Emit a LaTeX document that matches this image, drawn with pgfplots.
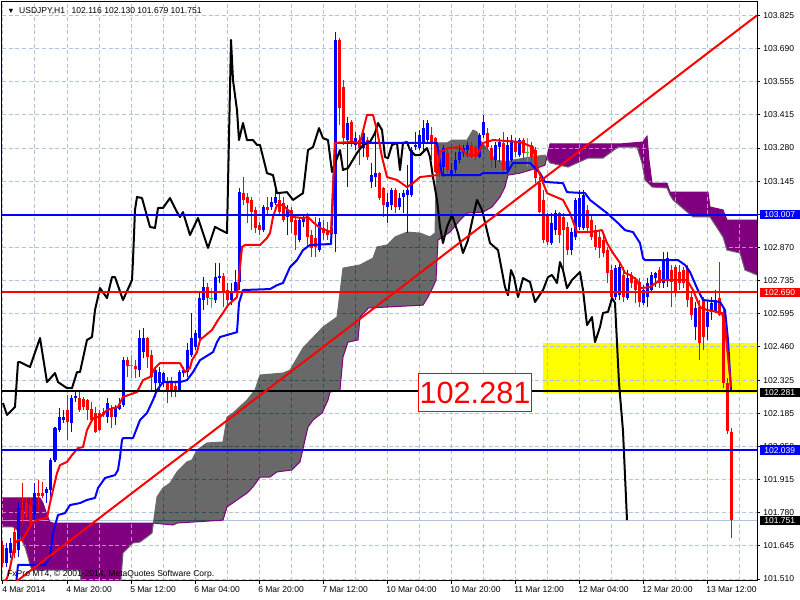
\documentclass[border=0pt]{standalone}
\usepackage{pgfplots}
\pgfplotsset{compat=1.18}
\usepackage{pgfplotstable}
\usepgfplotslibrary{fillbetween}
\usepackage{fontspec}
\setmainfont{Liberation Sans}
\definecolor{gridc}{RGB}{176,196,222}
\definecolor{gridgreyc}{RGB}{47,79,79}
\definecolor{gridpurplec}{RGB}{215,125,215}
\definecolor{cloudgrey}{RGB}{105,105,105}
\definecolor{cloudpurple}{RGB}{128,0,128}
\definecolor{dojigreen}{RGB}{0,230,0}
\definecolor{mtblue}{RGB}{0,0,255}
\definecolor{mtred}{RGB}{255,0,0}
\definecolor{mtyellow}{RGB}{255,255,0}
\definecolor{bidc}{RGB}{176,196,222}

% bullish candles: index, open, high, low, close
\pgfplotstableread{
i o h l c
1 101.576 101.658 101.559 101.637
2 101.617 101.678 101.596 101.658
4 101.629 101.822 101.600 101.802
8 101.773 101.904 101.752 101.863
11 101.863 101.888 101.822 101.880
12 101.876 102.007 101.847 101.999
13 101.999 102.134 101.991 102.130
14 102.122 102.212 102.114 102.175
15 102.163 102.204 102.151 102.175
17 102.151 102.266 102.114 102.253
18 102.253 102.278 102.237 102.262
26 102.175 102.253 102.151 102.233
28 102.175 102.225 102.143 102.212
29 102.208 102.253 102.204 102.225
30 102.225 102.422 102.217 102.409
34 102.368 102.533 102.340 102.500
35 102.442 102.541 102.418 102.500
38 102.315 102.381 102.258 102.368
39 102.315 102.381 102.278 102.360
40 102.319 102.360 102.299 102.356
44 102.286 102.368 102.278 102.360
45 102.356 102.381 102.340 102.368
46 102.360 102.479 102.340 102.451
47 102.430 102.603 102.422 102.500
48 102.463 102.533 102.451 102.520
49 102.500 102.685 102.492 102.664
50 102.656 102.750 102.615 102.709
53 102.656 102.808 102.644 102.750
54 102.746 102.808 102.726 102.754
57 102.656 102.726 102.635 102.689
58 102.689 102.779 102.685 102.730
59 102.730 103.116 102.697 103.099
65 102.943 103.046 102.935 103.038
67 103.038 103.079 103.026 103.058
68 103.054 103.108 103.046 103.079
71 102.997 103.046 102.923 103.026
74 102.902 102.997 102.894 102.984
75 102.976 103.005 102.956 102.997
79 102.861 102.993 102.853 102.976
83 102.927 103.757 102.853 103.724
86 103.313 103.407 103.120 103.383
88 103.293 103.346 103.272 103.321
90 103.280 103.346 103.243 103.342
92 103.141 103.219 103.116 103.169
93 103.161 103.342 103.120 103.177
96 103.038 103.095 102.972 103.058
97 103.046 103.116 103.026 103.108
99 103.038 103.095 103.026 103.075
100 103.079 103.108 103.013 103.095
101 103.087 103.210 102.931 103.108
102 103.087 103.284 103.079 103.272
103 103.284 103.346 103.272 103.293
104 103.280 103.354 103.272 103.334
105 103.305 103.395 103.264 103.362
106 103.313 103.395 103.301 103.383
110 103.202 103.293 103.161 103.280
112 103.169 103.219 103.161 103.190
113 103.190 103.264 103.177 103.231
114 103.231 103.293 103.219 103.264
115 103.260 103.293 103.243 103.280
116 103.272 103.305 103.243 103.293
119 103.243 103.342 103.239 103.334
120 103.334 103.416 103.321 103.387
123 103.231 103.305 103.198 103.293
124 103.284 103.321 103.223 103.305
126 103.190 103.325 103.182 103.293
127 103.231 103.334 103.223 103.313
129 103.251 103.321 103.243 103.313
137 102.890 103.013 102.882 102.972
138 102.943 103.026 102.923 103.013
142 102.861 102.952 102.841 102.935
143 102.915 103.075 102.902 103.067
144 102.956 103.108 102.943 103.075
145 102.952 103.108 102.943 103.087
153 102.668 102.800 102.656 102.787
154 102.676 102.808 102.656 102.791
156 102.664 102.779 102.656 102.746
160 102.644 102.717 102.635 102.697
161 102.668 102.746 102.627 102.726
162 102.697 102.771 102.689 102.759
163 102.746 102.771 102.709 102.767
165 102.726 102.853 102.705 102.820
166 102.738 102.853 102.709 102.828
173 102.545 102.648 102.492 102.623
176 102.545 102.656 102.492 102.607
177 102.607 102.668 102.574 102.644
178 102.607 102.697 102.603 102.656
}\upcandles

% bearish candles
\pgfplotstableread{
i o h l c
0 101.650 101.666 101.559 101.576
3 101.703 101.720 101.596 101.617
5 101.793 101.904 101.740 101.752
6 101.822 101.843 101.752 101.765
7 101.814 101.843 101.724 101.740
9 101.863 101.917 101.793 101.851
10 101.863 101.908 101.843 101.851
16 102.204 102.266 102.081 102.155
19 102.253 102.278 102.196 102.204
20 102.249 102.258 102.204 102.217
21 102.245 102.249 102.163 102.204
22 102.208 102.237 102.155 102.163
23 102.192 102.217 102.110 102.114
24 102.192 102.204 102.118 102.122
25 102.196 102.212 102.175 102.184
27 102.212 102.225 102.130 102.175
31 102.409 102.422 102.340 102.385
33 102.385 102.409 102.336 102.373
36 102.500 102.504 102.377 102.422
37 102.430 102.451 102.278 102.340
41 102.319 102.340 102.233 102.278
42 102.319 102.340 102.258 102.286
43 102.303 102.319 102.258 102.286
51 102.709 102.726 102.635 102.664
55 102.754 102.767 102.627 102.689
56 102.697 102.726 102.623 102.656
60 103.095 103.161 103.046 103.067
61 103.079 103.095 102.972 103.054
62 103.067 103.079 102.943 103.017
63 103.026 103.038 102.931 102.952
64 102.964 102.976 102.923 102.943
66 103.038 103.079 103.005 103.026
69 103.067 103.095 103.005 103.017
70 103.054 103.079 102.976 102.984
72 103.026 103.038 102.931 102.976
73 102.984 102.997 102.861 102.923
76 102.997 103.013 102.874 102.915
77 102.923 102.943 102.833 102.870
78 102.911 102.997 102.833 102.874
80 102.952 102.984 102.902 102.931
81 102.943 102.976 102.902 102.923
82 102.952 102.964 102.902 102.927
84 103.724 103.732 103.375 103.444
85 103.531 103.559 103.293 103.321
87 103.387 103.395 103.284 103.301
89 103.313 103.334 103.210 103.280
91 103.313 103.325 103.231 103.243
94 103.177 103.182 103.067 103.075
95 103.116 103.120 102.997 103.046
98 103.108 103.116 103.013 103.038
107 103.334 103.366 103.231 103.301
108 103.321 103.325 103.177 103.182
109 103.231 103.272 103.161 103.177
111 103.260 103.272 103.177 103.190
117 103.293 103.305 103.239 103.243
118 103.284 103.293 103.231 103.243
121 103.342 103.362 103.272 103.284
122 103.280 103.293 103.198 103.231
125 103.301 103.346 103.182 103.190
128 103.305 103.321 103.243 103.264
130 103.313 103.321 103.231 103.260
132 103.293 103.305 103.202 103.243
133 103.272 103.284 103.136 103.157
134 103.136 103.161 103.013 103.017
135 103.067 103.108 102.890 102.902
136 103.005 103.013 102.882 102.894
139 103.013 103.017 102.890 102.923
140 102.997 103.013 102.779 102.943
141 102.956 102.976 102.841 102.861
146 103.026 103.046 102.935 102.952
147 102.984 103.005 102.902 102.915
148 102.943 102.964 102.861 102.874
149 102.915 102.943 102.828 102.870
150 102.902 102.931 102.833 102.849
151 102.861 102.874 102.726 102.767
152 102.779 102.800 102.656 102.668
155 102.759 102.791 102.648 102.668
157 102.759 102.771 102.705 102.726
158 102.738 102.750 102.644 102.697
159 102.730 102.746 102.627 102.648
164 102.779 102.791 102.705 102.726
167 102.779 102.800 102.627 102.730
168 102.791 102.800 102.668 102.689
169 102.771 102.800 102.697 102.726
170 102.779 102.791 102.705 102.726
171 102.787 102.800 102.627 102.656
172 102.668 102.685 102.574 102.594
174 102.627 102.656 102.409 102.479
175 102.656 102.668 102.451 102.504
179 102.664 102.812 102.590 102.594
180 102.607 102.620 102.294 102.315
181 102.315 102.336 102.106 102.118
182 102.116 102.130 101.679 101.751
}\downcandles

% doji candles
\pgfplotstableread{
i o h l c
32 102.389 102.430 102.336 102.389
52 102.664 102.705 102.623 102.664
131 103.260 103.321 103.202 103.260
}\dojicandles

% Tenkan-sen
\pgfplotstableread{
i p
0 101.486
1 101.514
1.75 101.555
3 101.658
3.75 101.670
4.75 101.670
6 101.703
7.25 101.740
8.5 101.752
11 101.761
11.75 101.822
12.5 101.876
13.5 101.945
14.25 101.978
16 101.991
17.25 102.019
18.75 102.048
20 102.052
21 102.122
22.25 102.163
23 102.175
24.25 102.175
26 102.204
27.5 102.212
28.75 102.217
30 102.258
33.5 102.278
35 102.327
36.75 102.340
38 102.377
39.25 102.397
44.25 102.397
45.5 102.360
46.75 102.377
47.25 102.409
48.5 102.442
49.25 102.492
52.25 102.533
53.75 102.574
55 102.603
56.25 102.635
58.5 102.668
59.75 102.874
60.5 102.882
64.25 102.882
66 102.911
66.75 102.931
67.5 102.997
68.5 103.046
70 103.046
71.75 103.017
72.5 102.997
75 102.993
76.25 102.997
77.5 102.976
79.25 102.952
82 102.935
83 103.301
87.5 103.305
89.25 103.301
91 103.416
92.5 103.416
93.5 103.354
94.75 103.243
96 103.161
98.5 103.149
101 103.120
102.5 103.136
104.25 103.161
108.5 103.169
109.25 103.264
111.25 103.280
114.25 103.284
116 103.251
118.5 103.251
120 103.301
122.5 103.313
129.25 103.305
132.5 103.284
133.5 103.202
136 103.095
140 103.067
141.75 103.013
143.5 102.935
146.75 102.935
149.75 102.943
151 102.890
152.5 102.849
154.25 102.808
155.5 102.767
156.75 102.759
158.5 102.738
159.25 102.705
161.75 102.709
164.25 102.738
171 102.738
172.5 102.697
174.25 102.627
176 102.615
179.75 102.603
180.5 102.545
181.25 102.422
182 102.299
}\tenkan

% Kijun-sen
\pgfplotstableread{
i p
0 101.444
3 101.444
3.5 101.527
3.75 101.568
10.5 101.568
11.75 101.600
12.5 101.699
13.75 101.773
15.5 101.781
16.75 101.814
19.25 101.822
21 101.835
23 101.843
23.75 101.884
25.5 101.925
28 101.937
28.75 101.958
29.25 102.011
29.75 102.081
30 102.089
32.5 102.089
34.25 102.163
36 102.192
37.5 102.245
38.5 102.286
40 102.319
44.25 102.319
46 102.327
47.5 102.360
49.25 102.409
52.5 102.442
53.5 102.483
54.25 102.504
58.5 102.524
59 102.644
60 102.697
66.75 102.701
68.5 102.717
70 102.726
71.75 102.791
73.5 102.820
75 102.861
76.75 102.882
82 102.886
83 103.301
108.5 103.301
109.75 103.169
119.25 103.169
120 103.177
126 103.177
127.5 103.219
131.75 103.219
134.25 103.177
135.5 103.141
140 103.136
141 103.099
145.5 103.095
146.75 103.067
151 103.013
153.75 102.972
155.5 102.943
157.5 102.935
159.25 102.890
160 102.828
160.5 102.820
168.75 102.820
170.5 102.800
171.75 102.771
173.5 102.705
175 102.656
179.25 102.648
180.5 102.615
181.25 102.492
182 102.286
}\kijun

% Chikou span
\pgfplotstableread{
i p
0 102.233
1 102.184
3 102.217
3.75 102.401
4.25 102.401
6.75 102.381
9.25 102.500
11 102.319
13 102.356
13.75 102.319
16 102.294
17.25 102.294
18.5 102.360
19.25 102.360
21 102.492
22.25 102.504
23 102.615
24.25 102.705
26 102.664
27.25 102.750
28 102.750
30 102.656
32.25 102.738
32.5 102.820
33 103.026
33.5 103.079
34.75 103.075
36.75 102.956
38 102.952
38.75 103.034
40 103.034
41.75 103.075
43.5 103.017
44.25 102.997
45 103.017
46.75 102.923
48.75 102.993
51.25 102.870
53 102.956
56 102.931
57 103.724
57.5 103.559
58.5 103.436
59 103.313
60 103.383
61 103.313
62.5 103.313
63.5 103.293
64.25 103.293
66 103.177
67.5 103.169
68.5 103.095
71 103.099
72.5 103.067
75 103.095
76.25 103.272
77.5 103.284
79 103.362
80 103.321
81.25 103.313
82.25 103.182
84.25 103.272
85 103.190
86.25 103.198
88.5 103.260
90 103.293
91.75 103.305
93 103.342
93.75 103.383
94.75 103.354
95.5 103.243
96.25 103.239
97.25 103.293
98.5 103.301
99.25 103.190
100 103.301
101 103.305
101.75 103.272
103 103.251
104.25 103.251
106 103.280
106.75 103.243
107.5 103.161
108.5 103.067
109.25 102.956
110 102.890
111 102.956
112.25 103.005
113.75 102.931
115 102.849
116.25 102.902
117.5 102.997
118.5 103.067
119.75 103.026
121.75 102.890
123.75 102.861
125.5 102.709
126.25 102.676
127 102.779
127.75 102.750
128.75 102.668
130 102.746
131.75 102.730
133 102.648
135 102.697
136.25 102.750
137.25 102.759
138.5 102.726
139.25 102.812
140 102.779
141 102.705
142.25 102.738
144.25 102.771
145 102.697
146 102.553
147.25 102.586
148 102.483
149.25 102.545
150 102.603
151.25 102.607
152.25 102.664
153 102.644
154 102.315
155 102.118
156 101.752
}\chikou

% Senkou span A
\pgfplotstableread{
i p
-0.25 101.724
2.5 101.724
3.5 101.711
4.25 101.683
5.5 101.641
6.25 101.600
6.75 101.568
7.25 101.547
19.25 101.547
19.75 101.457
29.25 101.457
30 101.617
32.5 101.658
34.25 101.662
36 101.683
37.25 101.699
38.5 101.847
40 101.884
41.75 101.904
43.5 101.950
46 101.991
47.25 101.999
48.5 102.040
51 102.069
55 102.073
56 102.175
57.5 102.192
61 102.245
63 102.286
64.25 102.348
70 102.356
71.75 102.368
75 102.459
80 102.545
83.5 102.586
85 102.787
89.25 102.800
92.5 102.828
93.5 102.874
96 102.882
98 102.915
101 102.935
104.25 102.931
106.75 102.915
108 102.931
108.5 103.301
111 103.301
112.25 103.313
116 103.313
117.5 103.354
118.5 103.346
119.25 103.313
121.75 103.264
123 103.231
126 103.223
127.5 103.231
131.75 103.243
135.5 103.251
136.75 103.219
141.25 103.202
146.25 103.239
150 103.239
153.75 103.284
158.5 103.284
159.75 103.219
160.5 103.149
162.25 103.120
166 103.116
166.75 103.087
167.5 103.067
172.5 102.997
176.75 102.997
180 102.915
181 102.861
184.25 102.849
185.5 102.779
188.5 102.759
}\spanA

% Senkou span B
\pgfplotstableread{
i p
-0.25 101.843
9.25 101.843
10 101.822
11 101.773
11.75 101.744
12.5 101.740
37.5 101.740
42.5 101.732
43.5 101.740
55 101.752
56 101.806
61 101.863
62.5 101.888
64.25 101.929
66.75 101.929
68.5 101.950
72.25 101.958
74.25 101.991
75.5 102.081
76.25 102.134
77.5 102.163
79.75 102.192
81.25 102.245
81.75 102.278
84.25 102.286
85 102.422
86.25 102.483
88.75 102.492
89.25 102.586
91 102.615
91.25 102.623
105 102.635
106.25 102.668
107.5 102.709
108.25 102.738
108.75 102.902
111.75 102.935
114.25 102.984
116 103.013
120 103.017
122.25 103.038
124.25 103.079
125.5 103.120
126.25 103.169
129.25 103.177
133.5 103.198
135.5 103.210
136.75 103.297
154.25 103.297
160 103.305
161 103.329
161.5 103.231
162.25 103.136
166 103.136
166.75 103.099
176.25 103.099
176.75 103.038
180 103.026
181 102.984
188.5 102.984
}\spanB

\newcommand{\mtfont}{\fontsize{6.4}{7.5}\selectfont}
\newcommand{\cloudgrid}[1]{%
  \pgfplotsinvokeforeach{0,8,...,184}{\draw[#1, line width=0.75pt, dash pattern=on 3pt off 2pt] (axis cs:##1,101.502) -- (axis cs:##1,103.880);}%
  \pgfplotsinvokeforeach{101.5100,101.6462,101.7824,101.9186,102.0547,102.1909,102.3271,102.4633,102.5994,102.7356,102.8718,103.0080,103.1441,103.2803,103.4165}{\draw[#1, line width=0.75pt, dash pattern=on 3pt off 2pt] (axis cs:-0.25,##1) -- (axis cs:188.5,##1);}%
  \draw[#1, line width=0.75pt] (axis cs:-1,101.751) -- (axis cs:190,101.751);%
}

\begin{document}
\begin{tikzpicture}
\begin{axis}[
  at={(0pt,0pt)}, anchor=south west,
  scale only axis, width=566.25pt, height=434.25pt,
  xmin=-0.25, xmax=188.5, ymin=101.502, ymax=103.880,
  clip bounding box=upper bound,
  axis line style={black, line width=0.75pt},
  xtick={0,16,32,48,64,80,96,112,128,144,160,176},
  xticklabels={4 Mar 2014, 4 Mar 20:00, 5 Mar 12:00, 6 Mar 04:00, 6 Mar 20:00, 7 Mar 12:00, 10 Mar 04:00, 10 Mar 20:00, 11 Mar 12:00, 12 Mar 04:00, 12 Mar 20:00, 13 Mar 12:00},
  minor xtick={8,24,40,56,72,88,104,120,136,152,168,184},
  ytick={103.825,103.6888,103.5527,103.4165,103.2803,103.1441,103.0080,102.8718,102.7356,102.5994,102.4633,102.3271,102.1909,102.0547,101.9186,101.7824,101.6462,101.5100},
  yticklabels={103.825,103.690,103.555,103.415,103.280,103.145,103.010,102.870,102.735,102.595,102.460,102.325,102.185,102.050,101.915,101.780,101.645,101.510},
  xtick pos=bottom, ytick pos=right,
  yticklabel pos=right,
  tick align=outside,
  major tick length=2.25pt, minor tick length=0pt,
  tick style={black, line width=0.75pt},
  xmajorgrids, xminorgrids, ymajorgrids,
  major grid style={gridc, line width=0.75pt, dash pattern=on 3pt off 2pt},
  minor grid style={gridc, line width=0.75pt, dash pattern=on 3pt off 2pt},
  ticklabel style={font=\mtfont, text=black},
  yticklabel style={anchor=west, inner sep=0pt, xshift=2.25pt},
  xticklabel style={anchor=north west, inner sep=0pt, xshift=-0.75pt, yshift=-1.5pt},
  clip=true,
]
% bid line (behind the cloud)
\addplot[bidc, line width=0.75pt, forget plot] coordinates {(-1,101.751) (190,101.751)};
% cloud
\addplot[name path=sa, draw=none, forget plot] table[x=i, y=p] {\spanA};
\addplot[name path=sb, draw=none, forget plot] table[x=i, y=p] {\spanB};
\addplot[fill=cloudpurple, draw=none, forget plot] fill between[of=sa and sb, soft clip={domain=-1:37.6}];
\addplot[fill=cloudgrey, draw=none, forget plot] fill between[of=sa and sb, soft clip={domain=37.6:135.93}];
\addplot[fill=cloudpurple, draw=none, forget plot] fill between[of=sa and sb, soft clip={domain=135.93:190}];
% grid lines seen through the cloud
\begin{scope}
\clip[intersection segments={of=sa and sb, sequence={L2 -- R2[reverse]}}];
\cloudgrid{gridgreyc}
\end{scope}
\begin{scope}
\clip[intersection segments={of=sa and sb, sequence={L1 -- R1[reverse]}}];
\cloudgrid{gridpurplec}
\end{scope}
\begin{scope}
\clip[intersection segments={of=sa and sb, sequence={L3 -- R3[reverse]}}];
\cloudgrid{gridpurplec}
\end{scope}
\addplot[cloudgrey, line width=0.75pt, forget plot] table[x=i, y=p] {\spanA};
\addplot[cloudpurple, line width=0.75pt, forget plot] table[x=i, y=p] {\spanB};
% yellow zone
\addplot[fill=mtyellow, draw=none, forget plot] coordinates {(135,102.275) (190,102.275) (190,102.478) (135,102.478)};
% grid showing through the yellow zone
\draw[gridc, line width=0.75pt, dash pattern=on 3pt off 2pt] (axis cs:135,102.3271) -- (axis cs:190,102.3271);
\draw[gridc, line width=0.75pt, dash pattern=on 3pt off 2pt] (axis cs:135,102.4633) -- (axis cs:190,102.4633);
\draw[gridc, line width=0.75pt, dash pattern=on 3pt off 2pt] (axis cs:136,102.275) -- (axis cs:136,102.478);
\draw[gridc, line width=0.75pt, dash pattern=on 3pt off 2pt] (axis cs:144,102.275) -- (axis cs:144,102.478);
\draw[gridc, line width=0.75pt, dash pattern=on 3pt off 2pt] (axis cs:152,102.275) -- (axis cs:152,102.478);
\draw[gridc, line width=0.75pt, dash pattern=on 3pt off 2pt] (axis cs:160,102.275) -- (axis cs:160,102.478);
\draw[gridc, line width=0.75pt, dash pattern=on 3pt off 2pt] (axis cs:168,102.275) -- (axis cs:168,102.478);
\draw[gridc, line width=0.75pt, dash pattern=on 3pt off 2pt] (axis cs:176,102.275) -- (axis cs:176,102.478);
\draw[gridc, line width=0.75pt, dash pattern=on 3pt off 2pt] (axis cs:184,102.275) -- (axis cs:184,102.478);
% candles: wicks
\addplot[draw=none, mark=none, forget plot, error bars/.cd, y dir=plus, y explicit, error mark=none, error bar style={draw=mtblue, line width=0.75pt, solid}]
  table[x=i, y=l, y error plus expr=\thisrow{h}-\thisrow{l}] {\upcandles};
\addplot[draw=none, mark=none, forget plot, error bars/.cd, y dir=plus, y explicit, error mark=none, error bar style={draw=mtred, line width=0.75pt, solid}]
  table[x=i, y=l, y error plus expr=\thisrow{h}-\thisrow{l}] {\downcandles};
\addplot[draw=none, mark=none, forget plot, error bars/.cd, y dir=plus, y explicit, error mark=none, error bar style={draw=dojigreen, line width=0.75pt, solid}]
  table[x=i, y=l, y error plus expr=\thisrow{h}-\thisrow{l}] {\dojicandles};
% candles: bodies
\addplot[draw=none, mark=none, forget plot, error bars/.cd, y dir=plus, y explicit, error mark=none, error bar style={draw=mtblue, line width=2.25pt, solid}]
  table[x=i, y=o, y error plus expr=\thisrow{c}-\thisrow{o}] {\upcandles};
\addplot[draw=none, mark=none, forget plot, error bars/.cd, y dir=plus, y explicit, error mark=none, error bar style={draw=mtred, line width=2.25pt, solid}]
  table[x=i, y=c, y error plus expr=\thisrow{o}-\thisrow{c}] {\downcandles};
\addplot[dojigreen, only marks, mark=-, mark size=1.2pt, mark options={line width=0.75pt}, forget plot]
  table[x=i, y=c] {\dojicandles};
% Ichimoku lines
\addplot[black, line width=1.5pt, line join=round, forget plot] table[x=i, y=p] {\chikou};
\addplot[mtblue, line width=1.5pt, line join=round, forget plot] table[x=i, y=p] {\kijun};
\addplot[mtred, line width=1.5pt, line join=round, forget plot] table[x=i, y=p] {\tenkan};
% horizontal levels
\addplot[mtblue, line width=1.5pt, forget plot] coordinates {(-1,103.007) (190,103.007)};
\addplot[mtred, line width=1.5pt, forget plot] coordinates {(-1,102.690) (190,102.690)};
\addplot[black, line width=1.5pt, forget plot] coordinates {(-1,102.281) (190,102.281)};
\addplot[mtblue, line width=1.5pt, forget plot] coordinates {(-1,102.039) (190,102.039)};
% trend line
\addplot[mtred, line width=1.5pt, forget plot] coordinates {(0,101.458) (188.5,103.825)};
\end{axis}
% price label box (placed at the chart position 102.281)
\node[draw=mtred, line width=0.75pt, fill=white, text=mtred, minimum width=85pt, minimum height=28.8pt, inner sep=0pt, font=\fontsize{23}{23}\selectfont] at (354.75pt,141.4pt) {102.281};
% right price tags
\begin{scope}[every node/.style={anchor=west, text=white, font=\mtfont, inner xsep=3.4pt, inner ysep=0pt, minimum height=7.1pt}]
\node[fill=mtblue] at (568.1pt,274.9pt) {103.007};
\node[fill=mtred] at (568.1pt,216.2pt) {102.690};
\node[fill=black] at (568.1pt,141.5pt) {102.281};
\node[fill=mtblue] at (568.1pt,98.1pt) {102.039};
\node[fill=black] at (568.1pt,45.5pt) {101.751};
\end{scope}
% header and copyright
\node[anchor=base west, inner sep=0pt, font=\mtfont] at (3.75pt,425.25pt) {{\fontsize{5.5}{6}\selectfont\char"25BC}\hspace{3.5pt}USDJPY,H1\hspace{5pt}102.116 102.130 101.679 101.751};
\node[anchor=base west, inner sep=0pt, font=\mtfont] at (3.75pt,3pt) {FxPro MT4, \textcopyright\ 2001-2014, MetaQuotes Software Corp.};
\pgfresetboundingbox
\useasboundingbox (-1.5pt,-14.25pt) rectangle (598.5pt,435.75pt);
\end{tikzpicture}
\end{document}
